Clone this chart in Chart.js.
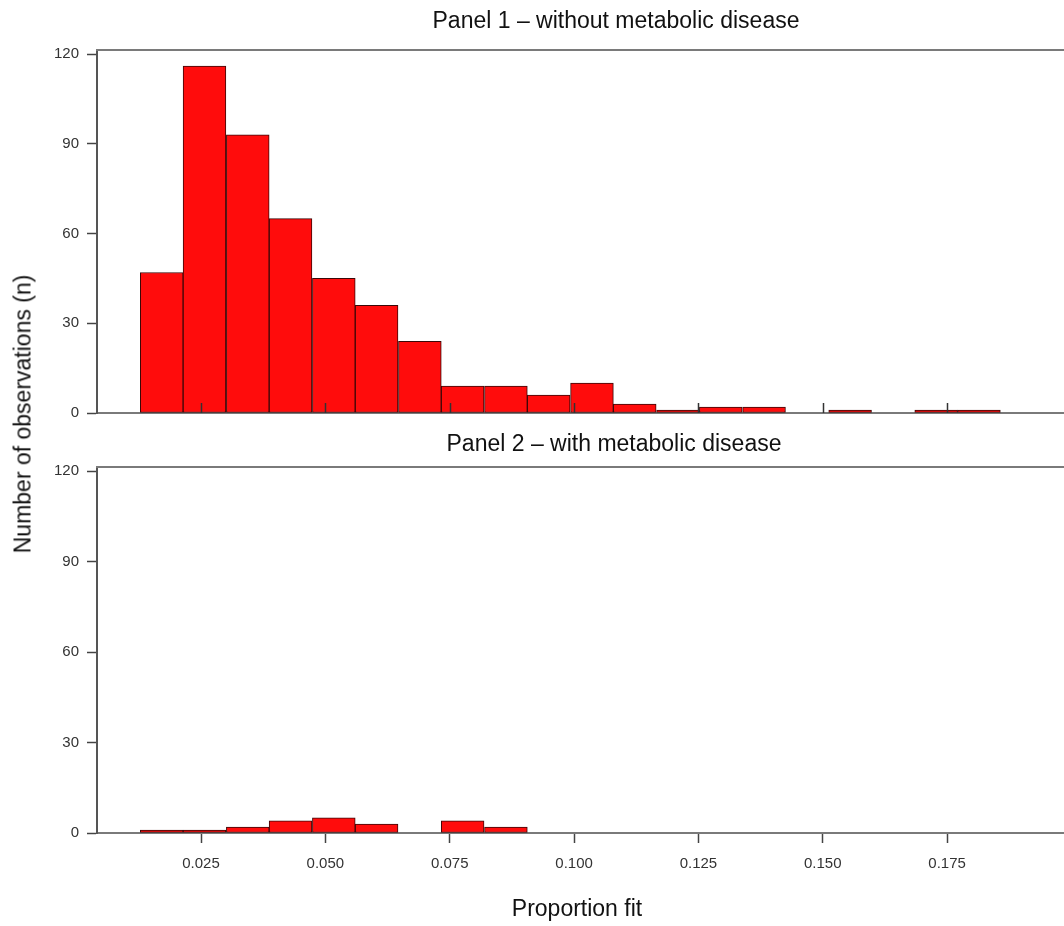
<!DOCTYPE html>
<html><head><meta charset="utf-8">
<script src="https://cdn.jsdelivr.net/npm/chart.js@4.4.1/dist/chart.umd.min.js"></script>
<style>
html,body{margin:0;padding:0;background:#fff;}
#wrap{position:relative;width:1064px;height:926px;overflow:hidden;font-family:"Liberation Sans",Arial,sans-serif;color:#111;}
.t{position:absolute;font-size:23px;line-height:23px;white-space:nowrap;}
</style></head><body>
<div id="wrap">
 <div style="position:absolute;left:0;top:0;width:1064px;height:430px"><canvas id="topc" width="1064" height="430"></canvas></div>
 <div style="position:absolute;left:0;top:430px;width:1064px;height:496px"><canvas id="botc" width="1064" height="496"></canvas></div>
 <div class="t" id="t1" style="left:616px;top:9px;transform:translateX(-50%)">Panel 1 – without metabolic disease</div>
 <div class="t" id="t2" style="left:614px;top:432px;transform:translateX(-50%)">Panel 2 – with metabolic disease</div>
 <div class="t" id="xl" style="left:577px;top:897px;transform:translateX(-50%)">Proportion fit</div>
 <div class="t" id="yl" style="left:23px;top:414px;transform:translate(-50%,-50%) rotate(-90deg)">Number of observations (n)</div>
</div>
<script>
// Histogram bins (centres of proportion-fit bins)
const binCenters = [0.0171, 0.0257, 0.0344, 0.0430, 0.0517, 0.0603, 0.0690, 0.0776, 0.0863, 0.0949,
                    0.1036, 0.1122, 0.1209, 0.1295, 0.1382, 0.1468, 0.1555, 0.1641, 0.1728, 0.1814];
// Panel 1 – without metabolic disease
const countsWithout = [47, 116, 93, 65, 45, 36, 24, 9, 9, 6, 10, 3, 1, 2, 2, 0, 1, 0, 1, 1];
// Panel 2 – with metabolic disease
const countsWith = [1, 1, 2, 4, 5, 3, 0, 4, 2, 0, 0, 0, 0, 0, 0, 0, 0, 0, 0, 0];
const xTicks = [0.025, 0.050, 0.075, 0.100, 0.125, 0.150, 0.175];
const yTicks = [0, 30, 60, 90, 120];

const X_MIN = 0.00409, X_MAX = 0.1985, Y_MAX = 121.4;
const FONT = '"Liberation Sans", Arial, sans-serif';

const topBorder = {
  id: 'topBorder',
  afterDraw(chart) {
    const a = chart.chartArea, ctx = chart.ctx;
    ctx.save();
    ctx.strokeStyle = '#7a7a7a'; ctx.lineWidth = 2;
    ctx.beginPath(); ctx.moveTo(a.left - 1, a.top); ctx.lineTo(a.right, a.top); ctx.stroke();
    ctx.restore();
  }
};
const innerTicks = {
  id: 'innerTicks',
  afterDatasetsDraw(chart) {
    if (!chart.options.plugins.innerTicks || !chart.options.plugins.innerTicks.on) return;
    const a = chart.chartArea, ctx = chart.ctx, xs = chart.scales.x;
    ctx.save();
    ctx.strokeStyle = '#333'; ctx.lineWidth = 1.5;
    xTicks.forEach(v => {
      const px = Math.round(xs.getPixelForValue(v)) + 0.5;
      ctx.beginPath(); ctx.moveTo(px, a.bottom); ctx.lineTo(px, a.bottom - 10); ctx.stroke();
    });
    ctx.restore();
  }
};

function makeChart(id, counts, isTop) {
  return new Chart(document.getElementById(id), {
    type: 'bar',
    data: {
      datasets: [{
        data: binCenters.map((x, i) => ({ x: x, y: counts[i] ? counts[i] : null })),
        backgroundColor: 'rgb(255,12,12)',
        borderColor: '#3a0808',
        borderWidth: 1,
        borderSkipped: false,
        barPercentage: 1,
        categoryPercentage: 1
      }]
    },
    options: {
      responsive: false,
      animation: false,
      events: [],
      layout: { padding: { top: isTop ? 50 : 37, left: 0, right: 0, bottom: 0 } },
      plugins: { legend: { display: false }, tooltip: { enabled: false }, title: { display: false },
                 innerTicks: { on: isTop } },
      scales: {
        x: {
          type: 'linear', min: X_MIN, max: X_MAX, offset: false,
          afterBuildTicks: s => { s.ticks = xTicks.map(v => ({ value: v })); },
          afterFit: s => { s.height = isTop ? 14 : 93; },
          grid: { offset: false, drawOnChartArea: false, drawTicks: !isTop, tickLength: 10, tickWidth: 1.5, tickColor: '#444' },
          border: { display: true, color: '#7a7a7a', width: 2 },
          ticks: { display: !isTop, padding: 12, maxRotation: 0, autoSkip: false,
                   color: '#333', font: { family: FONT, size: 15 },
                   callback: v => Number(v).toFixed(3) }
        },
        y: {
          type: 'linear', min: 0, max: Y_MAX,
          afterBuildTicks: s => { s.ticks = yTicks.map(v => ({ value: v })); },
          afterFit: s => { s.width = 97; },
          grid: { drawOnChartArea: false, drawTicks: true, tickLength: 10, tickWidth: 1.5, tickColor: '#444' },
          border: { display: true, color: '#555', width: 2 },
          ticks: { padding: 8, color: '#333', font: { family: FONT, size: 15 }, callback: v => String(v) }
        }
      }
    },
    plugins: [topBorder, innerTicks]
  });
}
makeChart('topc', countsWithout, true);
makeChart('botc', countsWith, false);
</script>
</body></html>
